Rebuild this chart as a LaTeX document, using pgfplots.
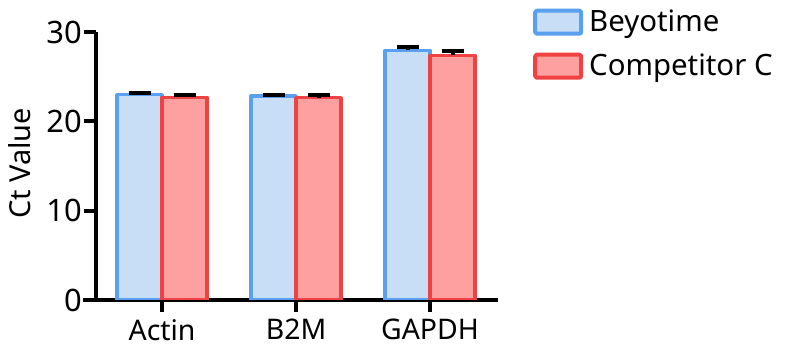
\documentclass[border=0pt]{standalone}
\usepackage{pgfplots}
\pgfplotsset{compat=1.18}
\usepackage{fontspec}
\setmainfont{Noto Sans}
\definecolor{bedge}{RGB}{90,160,240}
\definecolor{bfill}{RGB}{200,221,246}
\definecolor{redge}{RGB}{240,66,66}
\definecolor{rfill}{RGB}{255,160,160}
\begin{document}
\begin{tikzpicture}
\useasboundingbox (0,0) rectangle (788bp,355bp);
\begin{axis}[
  at={(96bp,55bp)}, anchor=south west,
  scale only axis, width=402bp, height=268bp,
  xmin=-0.493, xmax=2.507, ymin=0, ymax=30,
  ybar=0pt, bar width=0.336,
  axis x line*=bottom, axis y line*=left,
  axis line style={line width=4bp, -},
  ytick={0,10,20,30}, xtick={0,1,2}, xticklabels={Actin,B2M,GAPDH},
  tick align=outside, major tick length=12bp,
  tick style={line width=4bp, black},
  /pgf/number format/assume math mode=true,
  yticklabel style={font=\fontsize{31}{37}\selectfont, inner sep=2bp},
  xticklabel style={font=\fontsize{28.5}{34}\selectfont, inner sep=2bp, yshift=-5bp},
  ylabel={Ct Value},
  ylabel style={font=\fontsize{29}{35}\selectfont, at={(axis description cs:-0.189,0.51)}, anchor=center},
  legend style={at={(axis description cs:1.0796,1.095)}, anchor=north west, draw=none, fill=none,
    font=\fontsize{29.5}{35}\selectfont, row sep=17bp,
    nodes={inner sep=0pt},
    /tikz/every odd column/.style={column sep=6bp}},
  legend cell align=left,
  after end axis/.code={\draw[line width=4bp] ([xshift=-13bp]rel axis cs:0,0) -- (rel axis cs:0,0);},
]
\addplot[draw=bedge, fill=bfill, line width=3.5bp, line join=round,
  legend image code/.code={\draw[draw=bedge, fill=bfill, line width=4bp, rounded corners=1.5bp] (0bp,-12bp) rectangle (46bp,11bp);},
  error bars/.cd, y dir=plus, y explicit, error mark=|,
  error bar style={line width=4bp, black},
  error mark options={line width=4bp, mark size=11bp, black}]
  coordinates {(0,22.98) +- (0,0.14) (1,22.84) +- (0,0.15) (2,27.95) +- (0,0.37)};
\addlegendentry{Beyotime}
\addplot[draw=redge, fill=rfill, line width=3.5bp, line join=round,
  legend image code/.code={\draw[draw=redge, fill=rfill, line width=4bp, rounded corners=1.5bp] (0bp,-12bp) rectangle (46bp,11bp);},
  error bars/.cd, y dir=plus, y explicit, error mark=|,
  error bar style={line width=4bp, black},
  error mark options={line width=4bp, mark size=11bp, black}]
  coordinates {(0,22.69) +- (0,0.28) (1,22.65) +- (0,0.25) (2,27.39) +- (0,0.48)};
\addlegendentry{Competitor C}
\end{axis}
\end{tikzpicture}
\end{document}
